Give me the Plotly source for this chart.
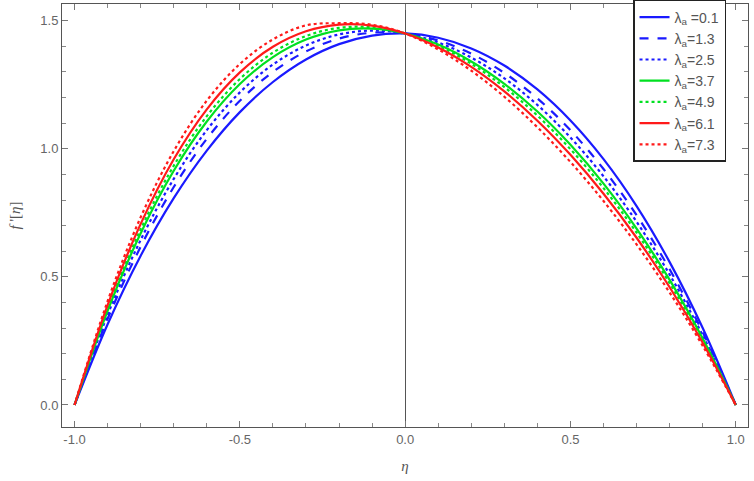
import plotly.graph_objects as go

# eta grid and f'(eta) profiles
eta = [-1.0, -0.9, -0.8, -0.7, -0.6, -0.5, -0.4, -0.3, -0.2, -0.1, 0.0,
       0.1, 0.2, 0.3, 0.4, 0.5, 0.6, 0.7, 0.8, 0.9, 1.0]

f_01 = [0.0, 0.3151, 0.5827, 0.8072, 0.9928, 1.1430, 1.2606, 1.3485, 1.4084, 1.4418, 1.45,
        1.4332, 1.3917, 1.3248, 1.2314, 1.1103, 0.9594, 0.7762, 0.5576, 0.3002, 0.0]
f_13 = [0.0, 0.3364, 0.6180, 0.8506, 1.0388, 1.1873, 1.2999, 1.3799, 1.4301, 1.4530, 1.45,
        1.4226, 1.3711, 1.2960, 1.1966, 1.0721, 0.9208, 0.7408, 0.5295, 0.2838, 0.0]
f_25 = [0.0, 0.3520, 0.6441, 0.8824, 1.0727, 1.2200, 1.3287, 1.4030, 1.4462, 1.4611, 1.45,
        1.4145, 1.3559, 1.2748, 1.1709, 1.0438, 0.8923, 0.7147, 0.5088, 0.2717, 0.0]
f_37 = [0.0, 0.3677, 0.6701, 0.9143, 1.1065, 1.2526, 1.3576, 1.4261, 1.4622, 1.4692, 1.45,
        1.4066, 1.3408, 1.2535, 1.1452, 1.0155, 0.8638, 0.6886, 0.4881, 0.2596, 0.0]
f_49 = [0.0, 0.3773, 0.6860, 0.9337, 1.1271, 1.2724, 1.3751, 1.4401, 1.4719, 1.4743, 1.45,
        1.4019, 1.3316, 1.2406, 1.1296, 0.9983, 0.8465, 0.6728, 0.4755, 0.2523, 0.0]
f_61 = [0.0, 0.3897, 0.7067, 0.9591, 1.1540, 1.2983, 1.3979, 1.4584, 1.4846, 1.4806, 1.45,
        1.3956, 1.3198, 1.2241, 1.1095, 0.9764, 0.8243, 0.6526, 0.4595, 0.2429, 0.0]
f_73 = [0.0, 0.4054, 0.7328, 0.9909, 1.1878, 1.3309, 1.4268, 1.4815, 1.4900, 1.4840, 1.45,
        1.3877, 1.3046, 1.2029, 1.0838, 0.9481, 0.7959, 0.6265, 0.4388, 0.2308, 0.0]

labels = ["λ<sub>a</sub> =0.1", "λ<sub>a</sub>=1.3", "λ<sub>a</sub>=2.5", "λ<sub>a</sub>=3.7",
          "λ<sub>a</sub>=4.9", "λ<sub>a</sub>=6.1", "λ<sub>a</sub>=7.3"]

BLUE = "#1a1aff"
GREEN = "#00e020"
RED = "#ff1a1a"

series = [
    (f_01, BLUE, "solid"),
    (f_13, BLUE, "dash"),
    (f_25, BLUE, "dot"),
    (f_37, GREEN, "solid"),
    (f_49, GREEN, "dot"),
    (f_61, RED, "solid"),
    (f_73, RED, "dot"),
]

fig = go.Figure()
for (vals, color, dash), name in zip(series, labels):
    fig.add_trace(go.Scatter(
        x=eta, y=vals, mode="lines", name=name,
        line=dict(color=color, dash=dash, width=2.2, shape="spline", smoothing=1.0),
    ))

axis_common = dict(
    showline=True, linecolor="#555555", linewidth=1, mirror="allticks",
    ticks="inside", ticklen=6, tickcolor="#777777",
    tickfont=dict(family="Liberation Sans, Arial", size=13, color="#666666"),
    showgrid=False, automargin=False,
)

fig.update_xaxes(
    **axis_common,
    range=[-1.038, 1.037], tickvals=[-1.0, -0.5, 0.0, 0.5, 1.0],
    ticktext=["-1.0", "-0.5", "0.0", "0.5", "1.0"],
    minor=dict(dtick=0.1, tick0=0, ticks="inside", ticklen=4, tickcolor="#888888"),
    zeroline=True, zerolinecolor="#555555", zerolinewidth=1,
    title=dict(text="<i>η</i>", font=dict(family="Liberation Serif", size=15, color="#555555"),
               standoff=14),
)
fig.update_yaxes(
    **axis_common,
    range=[-0.086, 1.565], tickvals=[0.0, 0.5, 1.0, 1.5],
    ticktext=["0.0", "0.5", "1.0", "1.5"],
    minor=dict(dtick=0.1, tick0=0, ticks="inside", ticklen=4, tickcolor="#888888"),
    zeroline=False,
    title=dict(text="<i>f</i> '[<i>η</i>]", font=dict(family="Liberation Serif", size=15, color="#555555"),
               standoff=16),
)

fig.update_layout(
    width=754, height=481,
    margin=dict(l=62, r=6, t=4, b=54, autoexpand=False),
    paper_bgcolor="white", plot_bgcolor="white",
    legend=dict(
        x=0.8324, y=1.0095, xanchor="left", yanchor="top",
        bgcolor="white", bordercolor="#222222", borderwidth=1.5,
        font=dict(family="Liberation Sans, Arial", size=14, color="#555555"),
        itemwidth=30, tracegroupgap=0,
    ),
)

# page body has a default 8px margin; drop it so the figure sits at the origin
fig.write_html("out.html", config={"displayModeBar": False},
               post_script="document.body.style.margin='0';")
